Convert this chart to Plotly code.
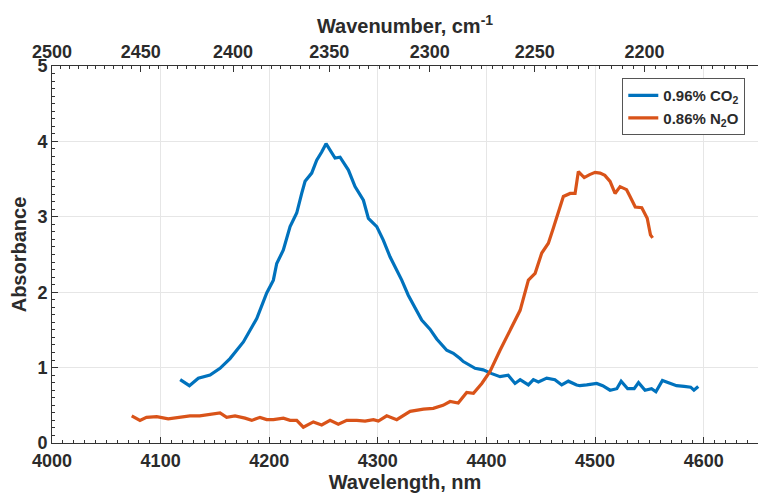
import plotly.graph_objects as go

# CO2 spectrum (wavelength nm, absorbance)
co2_wl = [4118, 4126.5, 4134.7, 4145.5, 4154.7, 4163.9, 4176.2, 4188.5, 4197.7, 4203.8,
          4206.9, 4213, 4219.2, 4225.3, 4229.9, 4233, 4239.1, 4243.7, 4248.3, 4252.3,
          4260.6, 4265.2, 4272.9, 4279, 4286.7, 4291.3, 4299, 4305, 4311.2, 4317.4,
          4322, 4328, 4334, 4340.4, 4348, 4354.2, 4363.4, 4369.5, 4375.7, 4378.7,
          4389.5, 4397, 4404.9, 4412.5, 4420, 4426.3, 4431, 4438.6, 4443.2, 4447.8,
          4455.5, 4463, 4469.3, 4475.4, 4483, 4486, 4492.3, 4501.5, 4507, 4513.8,
          4520, 4524, 4530, 4536, 4540, 4546, 4552, 4556, 4562, 4568,
          4575, 4582, 4588, 4591, 4595]
co2_abs = [0.84, 0.76, 0.86, 0.90, 0.99, 1.12, 1.34, 1.65, 1.99, 2.16,
           2.38, 2.56, 2.87, 3.05, 3.31, 3.47, 3.58, 3.75, 3.86, 3.97,
           3.78, 3.79, 3.62, 3.40, 3.22, 2.98, 2.87, 2.69, 2.47, 2.29,
           2.16, 1.96, 1.79, 1.63, 1.51, 1.38, 1.23, 1.19, 1.12, 1.08,
           0.99, 0.97, 0.92, 0.88, 0.90, 0.79, 0.84, 0.77, 0.84, 0.81,
           0.86, 0.84, 0.77, 0.82, 0.77, 0.76, 0.77, 0.79, 0.76, 0.70,
           0.72, 0.82, 0.72, 0.72, 0.80, 0.70, 0.72, 0.68, 0.83, 0.80,
           0.76, 0.75, 0.74, 0.70, 0.75]

# N2O spectrum
n2o_wl = [4073.4, 4081, 4087, 4096.4, 4107, 4116.3, 4127, 4136, 4145.5, 4154.7,
          4160.8, 4168.5, 4177.7, 4183.9, 4191.5, 4197.7, 4203.8, 4213, 4219.2, 4225.3,
          4231.4, 4240.6, 4248.3, 4256, 4263.6, 4271.4, 4280.6, 4288.2, 4295.9, 4300.5,
          4308.2, 4317.4, 4329.7, 4342, 4351, 4360, 4366.5, 4374, 4381.8, 4388,
          4395.7, 4403.3, 4412.5, 4421.7, 4431, 4438.6, 4444.8, 4450.9, 4457, 4461.6,
          4466.2, 4470.8, 4477, 4481.6, 4484.6, 4490, 4495, 4500, 4504.6, 4509,
          4513.8, 4518.4, 4523, 4529, 4532.2, 4537, 4543, 4548, 4551, 4553]
n2o_abs = [0.36, 0.30, 0.34, 0.35, 0.32, 0.34, 0.36, 0.36, 0.38, 0.40,
           0.34, 0.36, 0.33, 0.30, 0.34, 0.31, 0.31, 0.33, 0.30, 0.30,
           0.21, 0.28, 0.24, 0.30, 0.25, 0.30, 0.30, 0.29, 0.31, 0.29,
           0.36, 0.31, 0.42, 0.45, 0.46, 0.50, 0.55, 0.53, 0.67, 0.66,
           0.79, 0.95, 1.23, 1.50, 1.76, 2.16, 2.25, 2.52, 2.65, 2.85,
           3.07, 3.27, 3.31, 3.31, 3.60, 3.52, 3.56, 3.59, 3.58, 3.55,
           3.47, 3.31, 3.40, 3.36, 3.27, 3.13, 3.12, 2.98, 2.76, 2.72]

wn_ticks = [2500, 2450, 2400, 2350, 2300, 2250, 2200, 2150]
wn_minor = list(range(2500, 2149, -5))
wl_ticks = [4000, 4100, 4200, 4300, 4400, 4500, 4600]
wl_range = [4000, 4650]

font_fam = "Liberation Sans, Arial, sans-serif"
txt = "#2b2b2b"

fig = go.Figure()
fig.add_trace(go.Scatter(x=co2_wl, y=co2_abs, mode="lines", name="0.96% CO<sub>2</sub>",
                         line=dict(color="#0072BD", width=3.2)))
fig.add_trace(go.Scatter(x=n2o_wl, y=n2o_abs, mode="lines", name="0.86% N<sub>2</sub>O",
                         line=dict(color="#D95319", width=3.2)))
# invisible trace to activate top axis
fig.add_trace(go.Scatter(x=[wl_range[0]], y=[0], xaxis="x2", mode="markers",
                         marker=dict(opacity=0), showlegend=False, hoverinfo="skip"))

tickfont = dict(family=font_fam, size=18, color=txt, weight="bold")
titlefont = dict(family=font_fam, size=20, color=txt, weight="bold")

fig.update_layout(
    width=779, height=496,
    margin=dict(l=52, r=21, t=66, b=53),
    plot_bgcolor="white", paper_bgcolor="white",
    xaxis=dict(range=wl_range, tickvals=wl_ticks, automargin=False,
               ticks="inside", ticklen=6, tickcolor="#333", showline=True, linecolor="#333",
               linewidth=1, showgrid=True, gridcolor="#e6e6e6", zeroline=False,
               tickfont=tickfont, ticklabelstandoff=1,
               title=dict(text="Wavelength, nm", font=titlefont, standoff=2),
               minor=dict(ticks="inside", ticklen=3, dtick=10, tickcolor="#333", showgrid=False)),
    xaxis2=dict(overlaying="x", side="top", range=wl_range, automargin=False,
                tickvals=[1e7 / w for w in wn_ticks], ticktext=[str(w) for w in wn_ticks],
                ticks="inside", ticklen=6, tickcolor="#333", showline=True, linecolor="#333",
                linewidth=1, showgrid=False, zeroline=False, tickfont=tickfont,
                ticklabelstandoff=0,
                title=dict(text="Wavenumber, cm<sup>-1</sup>", font=titlefont, standoff=2),
                minor=dict(ticks="inside", ticklen=3, tickmode="array",
                           tickvals=[1e7 / w for w in wn_minor], tickcolor="#333", showgrid=False)),
    yaxis=dict(range=[0, 5], dtick=1, ticks="inside", ticklen=6, tickcolor="#333",
               automargin=False,
               showline=True, linecolor="#333", linewidth=1, showgrid=True,
               gridcolor="#e6e6e6", zeroline=False, tickfont=tickfont,
               title=dict(text="Absorbance", font=titlefont, standoff=5),
               minor=dict(ticks="inside", ticklen=3, dtick=0.1, tickcolor="#333", showgrid=False)),
    legend=dict(x=0.982, y=0.968, xanchor="right", yanchor="top",
                bgcolor="white", bordercolor="#555", borderwidth=1,
                font=dict(family=font_fam, size=15, color=txt, weight="bold"),
                tracegroupgap=0, itemwidth=30),
    showlegend=True,
)

fig.write_html("out.html")
